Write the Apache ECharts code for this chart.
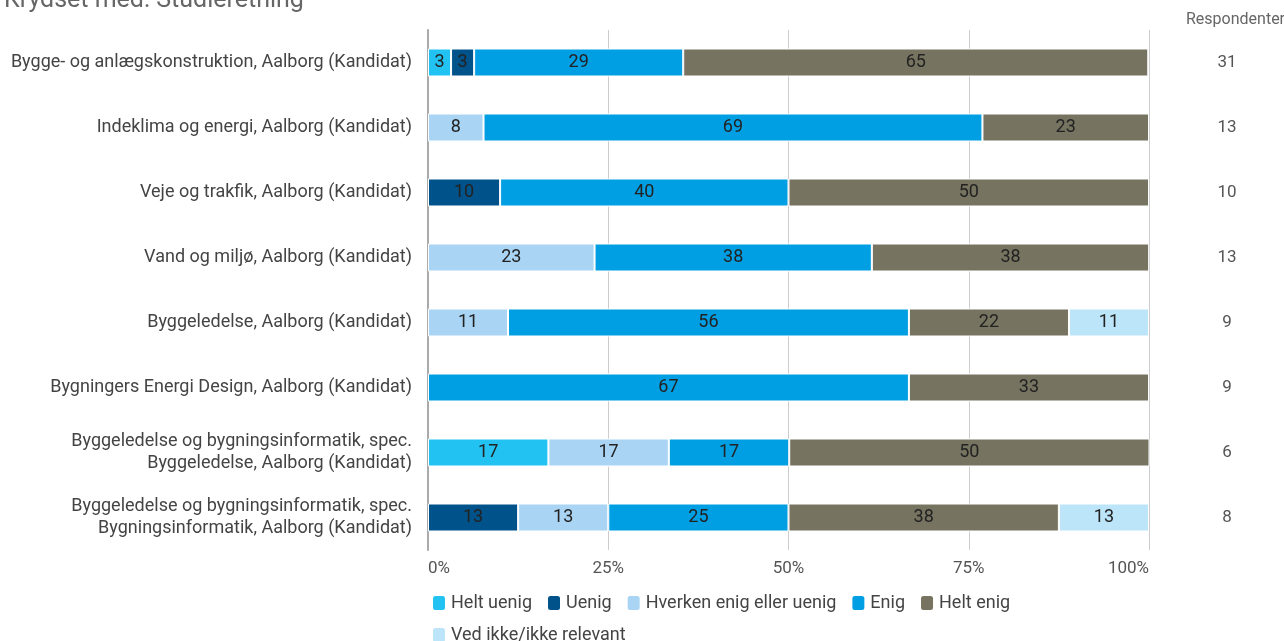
<!DOCTYPE html>
<html>
<head>
<meta charset="utf-8">
<script src="https://cdn.jsdelivr.net/npm/echarts@6/dist/echarts.min.js"></script>
<style>
  html, body { margin: 0; padding: 0; background: #fff; }
  #chart { width: 1284px; height: 641px; }
</style>
</head>
<body>
<div id="chart"></div>
<script>
// categories (studieretninger), top to bottom
const categories = [
  'Bygge- og anlægskonstruktion, Aalborg (Kandidat)',
  'Indeklima og energi, Aalborg (Kandidat)',
  'Veje og trakfik, Aalborg (Kandidat)',
  'Vand og miljø, Aalborg (Kandidat)',
  'Byggeledelse, Aalborg (Kandidat)',
  'Bygningers Energi Design, Aalborg (Kandidat)',
  'Byggeledelse og bygningsinformatik, spec.\nByggeledelse, Aalborg (Kandidat)',
  'Byggeledelse og bygningsinformatik, spec.\nBygningsinformatik, Aalborg (Kandidat)'
]
const respondenter = [31, 13, 10, 13, 9, 9, 6, 8]

// percentages per answer, '-' where nothing
const heltUenig = [3.2, '-', '-', '-', '-', '-', 16.7, '-']
const uenig = [3.2, '-', 10, '-', '-', '-', '-', 12.5]
const hverken = ['-', 7.7, '-', 23.1, 11.1, '-', 16.7, 12.5]
const enig = [29.0, 69.2, 40, 38.46, 55.6, 66.7, 16.7, 25]
const heltEnig = [64.5, 23.1, 50, 38.46, 22.2, 33.3, 50, 37.5]
const vedIkke = ['-', '-', '-', '-', 11.1, '-', '-', 12.5]

const xTicks = ['0%', '25%', '50%', '75%', '100%']

const seriesDefs = [
  ['Helt uenig', heltUenig, '#22c3f3'],
  ['Uenig', uenig, '#00538a'],
  ['Hverken enig eller uenig', hverken, '#a9d4f4'],
  ['Enig', enig, '#009fe3'],
  ['Helt enig', heltEnig, '#767360'],
  ['Ved ikke/ikke relevant', vedIkke, '#bde5fa']
]

let myChart = echarts.init(document.getElementById('chart'))
myChart.setOption({
  textStyle: { fontFamily: 'Roboto' },
  title: {
    text: 'Krydset med: Studieretning',
    left: -1,
    top: -17,
    textStyle: { fontSize: 25, fontWeight: 'normal', color: '#666' }
  },
  graphic: [{
    type: 'text',
    left: 1186,
    top: 12,
    style: { text: 'Respondenter', fontSize: 16, fill: '#666', fontFamily: 'Roboto' }
  }],
  legend: {
    left: 426,
    top: 589,
    width: 630,
    itemWidth: 14,
    itemHeight: 16,
    itemGap: 14,
    icon: 'roundRect',
    textStyle: { fontSize: 18, color: '#444', lineHeight: 18 },
    data: seriesDefs.map(d => d[0])
  },
  grid: { left: 428, right: 135, top: 30, bottom: 91 },
  xAxis: {
    type: 'value',
    min: 0,
    max: 100,
    interval: 25,
    axisLine: { show: false },
    axisTick: { show: false },
    splitLine: { lineStyle: { color: '#cccccc' } },
    axisLabel: {
      fontSize: 17,
      color: '#555',
      margin: 10,
      alignMinLabel: 'left',
      alignMaxLabel: 'right',
      formatter: v => xTicks[v / 25]
    }
  },
  yAxis: [{
    type: 'category',
    data: categories,
    inverse: true,
    axisLine: { show: true, lineStyle: { color: '#aaa', width: 2 } },
    axisTick: { show: false },
    axisLabel: { fontSize: 18, color: '#444', margin: 16, lineHeight: 22 }
  }, {
    type: 'category',
    data: respondenter,
    inverse: true,
    position: 'right',
    axisLine: { show: false },
    axisTick: { show: false },
    axisLabel: { fontSize: 17, color: '#555', margin: 78, align: 'center' }
  }],
  series: seriesDefs.map(d => ({
    name: d[0],
    type: 'bar',
    stack: 'total',
    barWidth: 28,
    data: d[1],
    itemStyle: { color: d[2], borderColor: '#fff', borderWidth: 1 },
    label: {
      show: true,
      position: 'inside',
      fontSize: 18,
      color: '#222',
      formatter: p => Math.round(p.value)
    }
  }))
})
</script>
</body>
</html>
